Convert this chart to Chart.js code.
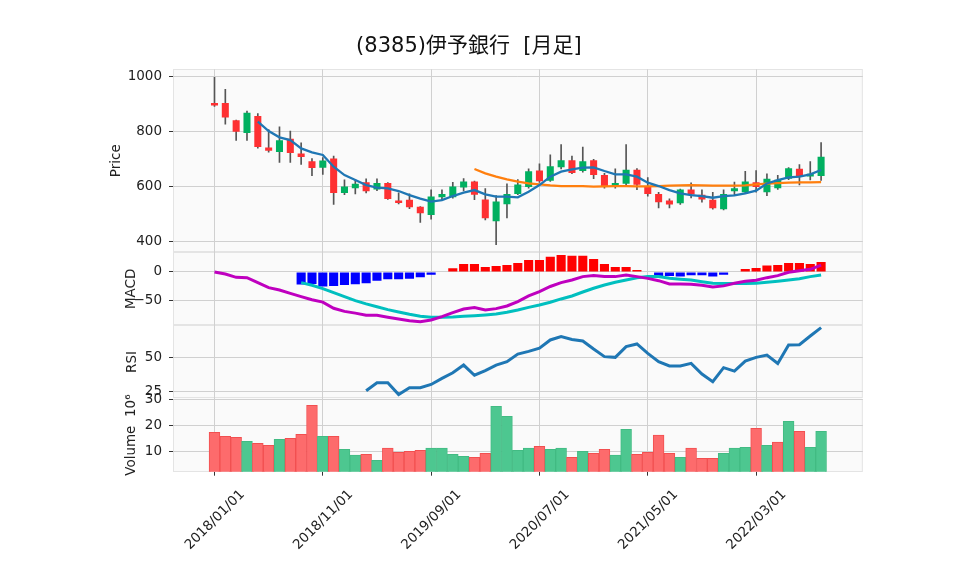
<!DOCTYPE html>
<html><head><meta charset="utf-8">
<script src="https://cdn.jsdelivr.net/npm/chart.js@4/dist/chart.umd.min.js"></script>
<style>html,body{margin:0;padding:0;background:#fff}</style>
</head><body>
<canvas id="c" width="958" height="575"></canvas>
<script>
// ---- data (monthly, 2018/01 .. 2022/09) ----
const months = ['2018/01','2018/02','2018/03','2018/04','2018/05','2018/06','2018/07','2018/08','2018/09','2018/10','2018/11','2018/12',
'2019/01','2019/02','2019/03','2019/04','2019/05','2019/06','2019/07','2019/08','2019/09','2019/10','2019/11','2019/12',
'2020/01','2020/02','2020/03','2020/04','2020/05','2020/06','2020/07','2020/08','2020/09','2020/10','2020/11','2020/12',
'2021/01','2021/02','2021/03','2021/04','2021/05','2021/06','2021/07','2021/08','2021/09','2021/10','2021/11','2021/12',
'2022/01','2022/02','2022/03','2022/04','2022/05','2022/06','2022/07','2022/08','2022/09'];
const openP  = [902,902,840,794,855,741,725,773,719,691,668,701, 576,594,615,589,613,549,552,527,497,561,561,596, 618,553,474,536,573,598,658,621,670,695,656,695, 642,598,610,661,600,573,549,539,589,570,552,518, 583,579,615,579,594,628,664,636,638];
const highP  = [995,952,840,873,864,806,816,801,758,701,705,710, 624,624,628,628,614,577,573,527,588,588,615,629, 620,592,567,610,625,664,682,715,752,710,743,698, 648,664,752,665,632,579,555,591,613,588,579,588, 616,655,658,646,640,668,679,690,759];
const lowP   = [890,826,767,767,739,724,687,687,680,639,644,535, 570,573,577,585,553,537,520,470,482,552,558,584, 552,479,389,486,570,594,615,618,664,646,652,628, 594,594,605,588,565,522,522,535,559,543,518,515, 567,576,579,567,589,625,606,624,622];
const closeP = [893,850,798,867,743,729,767,721,707,667,694,576, 600,610,583,613,555,540,525,503,564,573,600,618, 570,485,546,573,607,655,619,673,695,649,691,642, 598,613,661,606,573,543,535,589,571,553,521,573, 594,618,598,628,624,666,636,646,708];
const volumeM = [17.3,15.8,15.4,13.8,13.1,12.3,14.6,15.0,16.5,27.7,15.8,15.8, 10.8,8.5,8.8,6.5,11.2,9.6,10.0,10.4,11.2,11.2,8.8,8.1, 7.7,9.2,27.3,23.5,10.4,11.2,11.9,10.8,11.2,7.7,10.0,9.2, 10.8,8.5,18.5,8.8,9.6,16.2,9.2,7.7,11.2,7.3,7.3,9.2, 11.2,11.5,18.8,12.3,13.5,21.5,17.7,11.5,17.7];
const sma5 = [null,null,null,null,834.6,800.8,777.9,768,738,723.5,714,671.6, 641.4,623.3,605.2,595.6,593.1,583.5,569,556,545,551,565.4,577.5, 587,571.4,563,563,560.5,581,605,635.4,653.5,662,668,669, 656,644,644,635.4,613.7,601.6,587,575,569,565.4,559.3,565.4, 567.8,575,584.7,611,623.3,633,635.4,644,659.5];
const sma25 = [null,null,null,null,null,null,null,null,null,null,null,null, null,null,null,null,null,null,null,null,null,null,null,null, 663.2,647.5,635.4,625.7,617.3,611.2,607.6,604,601.6,601.6,601.6,599.2, 600.4,601.6,601.6,600.4,600.4,601.6,602.8,604,605,604,602.8,602.8, 602.8,604,607.6,610,612.5,613.7,615,615,616];
const macdLine = [0,-3.4,-9.2,-9.8,-18.4,-27,-31,-36.8,-42.5,-48,-52,-62.6, -68,-71,-74.7,-74.7,-78,-81,-84,-86,-82.8,-77,-70,-63.8, -61.5,-65.5,-63.2,-58.6,-51,-41.4,-34,-25,-18.4,-13.8,-8,-6.3, -8,-8,-5.2,-8,-11,-15,-20.7,-20.7,-21.3,-23,-25.9,-24, -19.5,-16,-14.4,-9.8,-6.3,-0.6,2.3,4.6,12];
const signalLine = [null,null,null,null,null,null,null,null,-18.4,-23,-28.7,-35.6, -42.5,-49.4,-55,-60,-65,-69,-73,-76.4,-78,-78,-77.6,-76.4, -75.3,-74,-72.4,-69.5,-65.5,-61,-57,-52.3,-46.5,-41.4,-34.5,-28, -22.4,-17.8,-13.8,-9.8,-8,-8,-11,-12.6,-13.8,-16.7,-19.5,-20, -20,-20,-19.5,-17.8,-16,-13.8,-11.5,-8,-5.2];
const macdHist = [null,null,null,null,null,null,null,null,-21.8,-20.7,-25,-24, -22.4,-21,-19.5,-15,-12.6,-12.6,-11.5,-9.2,-4.6,0,6.3,13.8, 13.8,8.6,10.3,12,15.5,20.7,20.7,26.4,29.3,28,28,22.4, 13.8,8.6,8.6,3.4,-1,-6.9,-6.9,-8,-5.7,-5.7,-8,-4.6, 0,5.2,6.9,11,12,15.5,15.5,13.8,17.2];
const rsi = [null,null,null,null,null,null,null,null,null,null,null,null, null,null,25.7,31.6,31.6,23,28,27.9,30.3,34.7,38.8,44.4, 37,40.3,44.4,46.8,52.4,54.3,56.6,62.6,65,63,61.9,56, 50.5,50,57.8,59.7,52.9,46.8,43.7,43.7,45.6,37.9,32.3,42.5, 40,47.3,50,51.7,45.6,59,59.2,65.5,71.6];
const xTickIdx = [0,10,20,30,40,50];
const xTickLabels = ['2018/01/01','2018/11/01','2019/09/01','2020/07/01','2021/05/01','2022/03/01'];
const priceTicks = [400,600,800,1000];
const macdTicks = [-50,0];
const rsiTicks = [25,50];
const volTicks = [10,20,30];

// ---- styling ----
const UP = '#00b060', DOWN = '#fe3032';
const VUP = '#4dc790', VDOWN = '#fd6b6c';
const GRID = '#d0d0d0';
const FONT = 'DejaVu Sans';

const idx = months.map((_, i) => i);
const isUp = idx.map(i => closeP[i] >= openP[i]);
const volUp = idx.map(i => i === 0 ? closeP[0] >= openP[0] : closeP[i] >= closeP[i - 1]);
const series = arr => idx.map(i => ({x: i, y: arr[i]}));

const panelPlugin = {
  id: 'panels',
  beforeDraw(chart) {
    const {ctx, chartArea: a} = chart;
    ctx.save();
    ctx.fillStyle = '#fafafa';
    ctx.fillRect(a.left, a.top, a.right - a.left, a.bottom - a.top);
    ctx.strokeStyle = '#e4e4e4';
    ctx.lineWidth = 1;
    for (const id of ['yP', 'yM', 'yR', 'yV']) {
      const s = chart.scales[id];
      ctx.strokeRect(a.left + 0.5, Math.round(s.top) + 0.5, a.right - a.left - 1, Math.round(s.bottom - s.top) - 1);
    }
    ctx.restore();
  }
};

function yAxis(opts) {
  const ticksArr = opts.ticks;
  return {
    type: 'linear', position: 'left', stack: 'panes', stackWeight: opts.weight,
    min: opts.min, max: opts.max,
    border: {display: false},
    grid: {color: GRID, lineWidth: 1, tickColor: '#333', tickLength: 4, tickWidth: 1},
    ticks: {autoSkip: false, padding: 7, color: '#222', font: {family: FONT, size: 13.5},
      callback: v => (v < 0 ? '\u2212' + Math.abs(v) : String(v))},
    title: {display: true, text: opts.title, color: '#222', font: {family: FONT, size: 13.5},
      padding: {top: opts.titlePad, bottom: 0}},
    afterBuildTicks: s => { s.ticks = ticksArr.map(v => ({value: v})); },
    afterFit: s => { s.width = 98; s.paddingTop = 0; s.paddingBottom = 0; }
  };
}

new Chart(document.getElementById('c'), {
  data: {
    datasets: [
      {type: 'line', label: 'SMA5', data: series(sma5), yAxisID: 'yP', borderColor: '#1f77b4', borderWidth: 2.3, pointRadius: 0, order: 0},
      {type: 'line', label: 'SMA25', data: series(sma25), yAxisID: 'yP', borderColor: '#ff7f0e', borderWidth: 2.3, pointRadius: 0, order: 0},
      {type: 'bar', label: 'body', data: idx.map(i => ({x: i, y: [openP[i], closeP[i]]})), yAxisID: 'yP',
        backgroundColor: idx.map(i => isUp[i] ? UP : DOWN), borderWidth: 0, grouped: false,
        barPercentage: 0.65, categoryPercentage: 1, order: 1},
      {type: 'bar', label: 'wick', data: idx.map(i => ({x: i, y: [lowP[i], highP[i]]})), yAxisID: 'yP',
        backgroundColor: '#555555', borderWidth: 0, grouped: false, barThickness: 1, order: 2},
      {type: 'line', label: 'MACD', data: series(macdLine), yAxisID: 'yM', borderColor: '#bf00bf', borderWidth: 3, pointRadius: 0, order: 0},
      {type: 'line', label: 'Signal', data: series(signalLine), yAxisID: 'yM', borderColor: '#00bfbf', borderWidth: 3, pointRadius: 0, order: 0},
      {type: 'bar', label: 'Hist', data: series(macdHist), yAxisID: 'yM',
        backgroundColor: idx.map(i => (macdHist[i] || 0) >= 0 ? '#ff0000' : '#0000ff'), borderWidth: 0, grouped: false,
        barPercentage: 0.84, categoryPercentage: 1, order: 3},
      {type: 'line', label: 'RSI', data: series(rsi), yAxisID: 'yR', borderColor: '#1f77b4', borderWidth: 3, pointRadius: 0, order: 0},
      {type: 'bar', label: 'Volume', data: series(volumeM), yAxisID: 'yV',
        backgroundColor: idx.map(i => volUp[i] ? VUP : VDOWN), borderColor: idx.map(i => volUp[i] ? '#42bb83' : '#f24f50'),
        borderWidth: 1, grouped: false, barPercentage: 1, categoryPercentage: 1, order: 3}
    ]
  },
  options: {
    responsive: false, animation: false, devicePixelRatio: 1,
    layout: {autoPadding: false, padding: {left: 75, right: 95.2, top: 0, bottom: 23.3}},
    plugins: {
      legend: {display: false}, tooltip: {enabled: false},
      title: {display: true, text: '(8385)伊予銀行  [月足]', color: '#111',
        font: {family: "'DejaVu Sans', 'Noto Sans CJK JP'", size: 21, weight: 'normal'},
        padding: {top: 34.4, bottom: 9.7}}
    },
    scales: {
      x: {type: 'linear', position: 'bottom', min: -3.83, max: 59.85, offset: false,
        border: {display: false},
        grid: {offset: false, color: GRID, lineWidth: 1, tickColor: '#333', tickLength: 4},
        ticks: {autoSkip: false, minRotation: 45, maxRotation: 45, labelOffset: 28, padding: 11, color: '#222',
          font: {family: FONT, size: 13.5},
          callback: v => { const k = xTickIdx.indexOf(v); return k >= 0 ? xTickLabels[k] : ''; }},
        afterBuildTicks: s => { s.ticks = xTickIdx.map(v => ({value: v})); },
        afterFit: s => { s.height = 80; s.paddingLeft = 0; s.paddingRight = 0; }
      },
      yV: yAxis({weight: 1, min: 2.15, max: 30.3, ticks: volTicks, title: 'Volume  10\u2076', titlePad: 47.9}),
      yR: yAxis({weight: 1, min: 20.1, max: 73.2, ticks: rsiTicks, title: 'RSI', titlePad: 48.9}),
      yM: yAxis({weight: 1, min: -92.1, max: 34.1, ticks: macdTicks, title: 'MACD', titlePad: 47.9}),
      yP: yAxis({weight: 2.5, min: 362, max: 1024.3, ticks: priceTicks, title: 'Price', titlePad: 32.9})
    }
  },
  plugins: [panelPlugin]
});
</script>
</body></html>
